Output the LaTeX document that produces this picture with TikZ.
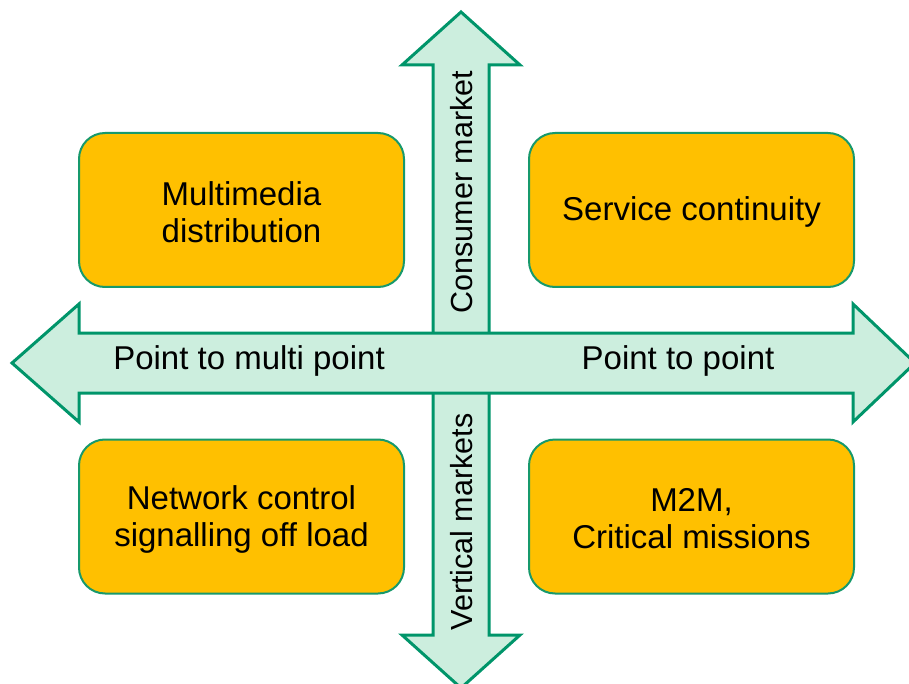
\documentclass[tikz,border=0pt]{standalone}
\usepackage{fontspec}
\setmainfont{Liberation Sans}
\definecolor{arrowfill}{HTML}{CCEEDE}
\definecolor{arrowline}{HTML}{00956A}
\definecolor{boxfill}{HTML}{FFC000}
\definecolor{boxline}{HTML}{17996C}
\tikzset{
  bigarrow/.style={fill=arrowfill, draw=arrowline, line width=3pt, line join=miter},
  quad/.style={fill=boxfill, draw=boxline, line width=2pt, rounded corners=26pt,
    minimum width=325pt, minimum height=154pt, inner sep=0pt},
  txt/.style={font=\fontsize{33}{37}\selectfont, inner sep=0pt, align=center},
  vlbl/.style={font=\fontsize{30.5}{34}\selectfont, inner sep=0pt, rotate=90}
}
\begin{document}
\begin{tikzpicture}[x=1pt,y=-1pt]
\useasboundingbox (0,0) rectangle (909,684);
\clip (0,0) rectangle (909,684);
% vertical double arrow
\draw[bigarrow] (461,12) -- (520,65) -- (489,65) -- (489,635) -- (520,635) -- (461,688)
  -- (402,635) -- (433,635) -- (433,65) -- (402,65) -- cycle;
% horizontal double arrow
\draw[bigarrow] (12,363) -- (79,304) -- (79,333) -- (853,333) -- (853,304) -- (915,363)
  -- (853,422) -- (853,393) -- (79,393) -- (79,422) -- cycle;
% boxes
\node[quad] (mm) at (241.5,210) {};
\node[quad] (sc) at (691.5,210) {};
\node[quad] (nc) at (241.5,516.5) {};
\node[quad] (m2m) at (691.5,516.5) {};
\node[txt] (mmt) at (241.5,212) {Multimedia\\distribution};
\node[txt] (sct) at (691.5,212) {Service continuity};
\node[txt] (nct) at (241.5,519) {Network control\\signalling off load};
\node[txt] (m2mt) at (691.5,519) {M2M,\\Critical missions};
% labels
\node[txt] (pmp) at (249,361) {Point to multi point};
\node[txt] (pp) at (678,361) {Point to point};
\node[vlbl] (cm) at (462,192) {Consumer market};
\node[vlbl] (vm) at (462,522) {Vertical markets};
\end{tikzpicture}
\end{document}
